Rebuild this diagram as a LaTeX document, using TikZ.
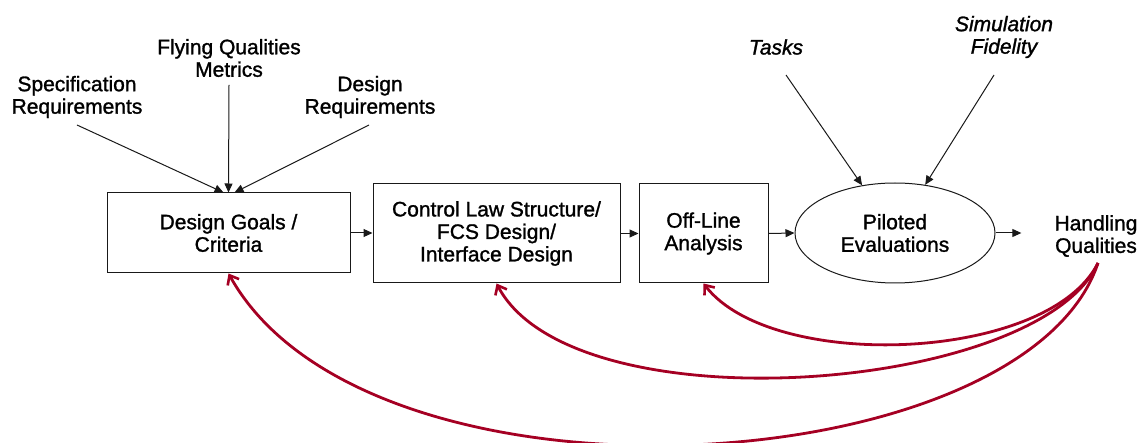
\documentclass[tikz,border=0pt]{standalone}
\usepackage{fontspec}
\setmainfont{Liberation Sans}[FakeBold=1.3,ItalicFeatures={FakeBold=1.3}]
\usetikzlibrary{shapes.geometric,arrows.meta}
\definecolor{fbred}{RGB}{165,0,35}
\definecolor{lineblk}{RGB}{25,25,25}
\begin{document}
\begin{tikzpicture}[x=1pt,y=-1pt,
  every node/.style={font=\fontsize{21}{22.5}\selectfont, align=center, inner sep=0pt},
  blockbox/.style={draw=lineblk, line width=1pt, minimum width=#1},
  evalshape/.style={draw=lineblk, line width=1pt, ellipse, minimum width=200pt, minimum height=100pt},
  arr/.style={draw=lineblk, line width=1pt, -{Triangle[length=9pt,width=8pt]}},
  fb/.style={draw=fbred, line width=2.8pt, -{Straight Barb[length=8pt,width=13pt,line width=2.6pt]}},
  lbl/.style={},
  ilbl/.style={font=\fontsize{21}{22.5}\selectfont\itshape}
]
\useasboundingbox (0,0) rectangle (1143,443);

% main chain
\node[blockbox=243pt, minimum height=80pt] (dg) at (228.5,233) {Design Goals /\\Criteria};
\node[blockbox=247pt, minimum height=99pt] (cl) at (496.5,233.5) {Control Law Structure/\\FCS Design/\\Interface Design};
\node[blockbox=129pt, minimum height=99pt] (ol) at (703.5,233.5) {Off-Line\\Analysis};
\node[evalshape] (pe) at (895,233) {Piloted\\Evaluations};
\node[lbl] (hq) at (1096,236) {Handling\\Qualities};

% input labels
\node[lbl] (spec) at (77,97) {Specification\\Requirements};
\node[lbl] (fq) at (229,58) {Flying Qualities\\Metrics};
\node[lbl] (dr) at (370,97) {Design\\Requirements};
\node[ilbl] (tasks) at (776,47) {Tasks};
\node[ilbl] (sim) at (1004,37) {Simulation\\Fidelity};

% arrow start points
\coordinate (s0) at (77,125);
\coordinate (f0) at (229,85);
\coordinate (d0) at (369,125);
\coordinate (t0) at (786,75);
\coordinate (m0) at (994,75);
\coordinate (h0) at (1098,263);

% input arrows
\draw[arr] (s0) -- ([xshift=-5pt]dg.north);
\draw[arr] (f0) -- (dg.north);
\draw[arr] (d0) -- ([xshift=6pt]dg.north);
\draw[arr] (t0) -- (pe);
\draw[arr] (m0) -- (pe);

% chain arrows
\draw[arr] (dg.east) -- (dg.east -| cl.west);
\draw[arr] (cl.east |- ol.west) -- (ol.west);
\draw[arr] (ol.east) -- (pe.west);
\draw[arr] (pe.east) -- ([xshift=-33pt]hq.west |- pe.east);

% feedback
\draw[fb] (h0) .. controls (1048.5,362) and (772.5,373) .. (ol.south);
\draw[fb] (h0) .. controls (1039.5,393) and (573,429) .. (cl.south);
\draw[fb] (h0) .. controls (1025,483) and (368,524) .. (dg.south);
\end{tikzpicture}
\end{document}
